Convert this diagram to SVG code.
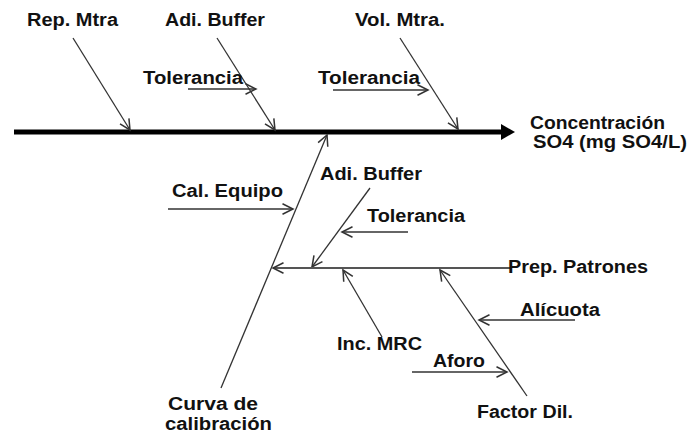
<svg xmlns="http://www.w3.org/2000/svg" width="691" height="433" viewBox="0 0 691 433">
<defs>
<marker id="ah" markerUnits="userSpaceOnUse" markerWidth="14" markerHeight="14" refX="10" refY="5" orient="auto" viewBox="0 0 12 10">
<polyline points="1,0.5 10,5 1,9.5" fill="none" stroke="#333" stroke-width="1.3"/>
</marker>
</defs>
<style>
text{font-family:"Liberation Sans",Arial,sans-serif;font-weight:bold;font-size:17.5px;fill:#111}
.c{fill:none;stroke:#333;stroke-width:1.3}
.g{fill:none;stroke:#555;stroke-width:2}
</style>
<rect width="691" height="433" fill="#fff"/>
<g id="connectors">
<line x1="14" y1="132" x2="503" y2="132" stroke="#000" stroke-width="5"/>
<polygon points="501,124 515,132 501,140" fill="#000"/>
<line class="c" x1="73" y1="38" x2="130" y2="130" marker-end="url(#ah)"/>
<line class="c" x1="217" y1="38" x2="275" y2="130" marker-end="url(#ah)"/>
<line class="c" x1="188" y1="89" x2="256" y2="89" marker-end="url(#ah)"/>
<line class="c" x1="400" y1="38" x2="458" y2="129" marker-end="url(#ah)"/>
<line class="c" x1="333" y1="90" x2="428" y2="90" marker-end="url(#ah)"/>
<line class="c" x1="221" y1="388" x2="327" y2="135" marker-end="url(#ah)"/>
<line class="c" x1="168" y1="209" x2="293" y2="209" marker-end="url(#ah)"/>
<line class="c" x1="370" y1="188" x2="312" y2="267" marker-end="url(#ah)"/>
<line class="c" x1="408" y1="232" x2="342" y2="232" marker-end="url(#ah)"/>
<line class="g" x1="510" y1="268" x2="273" y2="268" marker-end="url(#ah)"/>
<line class="c" x1="382" y1="337" x2="343" y2="270" marker-end="url(#ah)"/>
<line class="c" x1="527" y1="396" x2="440" y2="270" marker-end="url(#ah)"/>
<line class="c" x1="575" y1="320" x2="479" y2="320" marker-end="url(#ah)"/>
<line class="c" x1="412" y1="372" x2="507" y2="372" marker-end="url(#ah)"/>
</g>
<g id="effect"><text x="530" y="129" textLength="135" lengthAdjust="spacingAndGlyphs">Concentración</text><text x="533" y="148" textLength="154" lengthAdjust="spacingAndGlyphs">SO4 (mg SO4/L)</text></g>
<g id="rep-mtra"><text x="27" y="26" textLength="91" lengthAdjust="spacingAndGlyphs">Rep. Mtra</text></g>
<g id="adi-buffer-top"><text x="165" y="26" textLength="100" lengthAdjust="spacingAndGlyphs">Adi. Buffer</text></g>
<g id="tolerancia-1"><text x="143" y="84" textLength="100" lengthAdjust="spacingAndGlyphs">Tolerancia</text></g>
<g id="vol-mtra"><text x="355" y="26" textLength="90" lengthAdjust="spacingAndGlyphs">Vol. Mtra.</text></g>
<g id="tolerancia-2"><text x="318" y="84" textLength="102" lengthAdjust="spacingAndGlyphs">Tolerancia</text></g>
<g id="cal-equipo"><text x="172" y="197" textLength="111" lengthAdjust="spacingAndGlyphs">Cal. Equipo</text></g>
<g id="adi-buffer-low"><text x="320" y="180" textLength="102" lengthAdjust="spacingAndGlyphs">Adi. Buffer</text></g>
<g id="tolerancia-3"><text x="367" y="222" textLength="98" lengthAdjust="spacingAndGlyphs">Tolerancia</text></g>
<g id="prep-patrones"><text x="508" y="273" textLength="140" lengthAdjust="spacingAndGlyphs">Prep. Patrones</text></g>
<g id="alicuota"><text x="520" y="316" textLength="80" lengthAdjust="spacingAndGlyphs">Alícuota</text></g>
<g id="inc-mrc"><text x="337" y="350" textLength="85" lengthAdjust="spacingAndGlyphs">Inc. MRC</text></g>
<g id="aforo"><text x="433" y="367" textLength="52" lengthAdjust="spacingAndGlyphs">Aforo</text></g>
<g id="factor-dil"><text x="477" y="418" textLength="96" lengthAdjust="spacingAndGlyphs">Factor Dil.</text></g>
<g id="curva"><text x="168" y="410" textLength="90" lengthAdjust="spacingAndGlyphs">Curva de</text><text x="165" y="430" textLength="107" lengthAdjust="spacingAndGlyphs">calibración</text></g>
</svg>
